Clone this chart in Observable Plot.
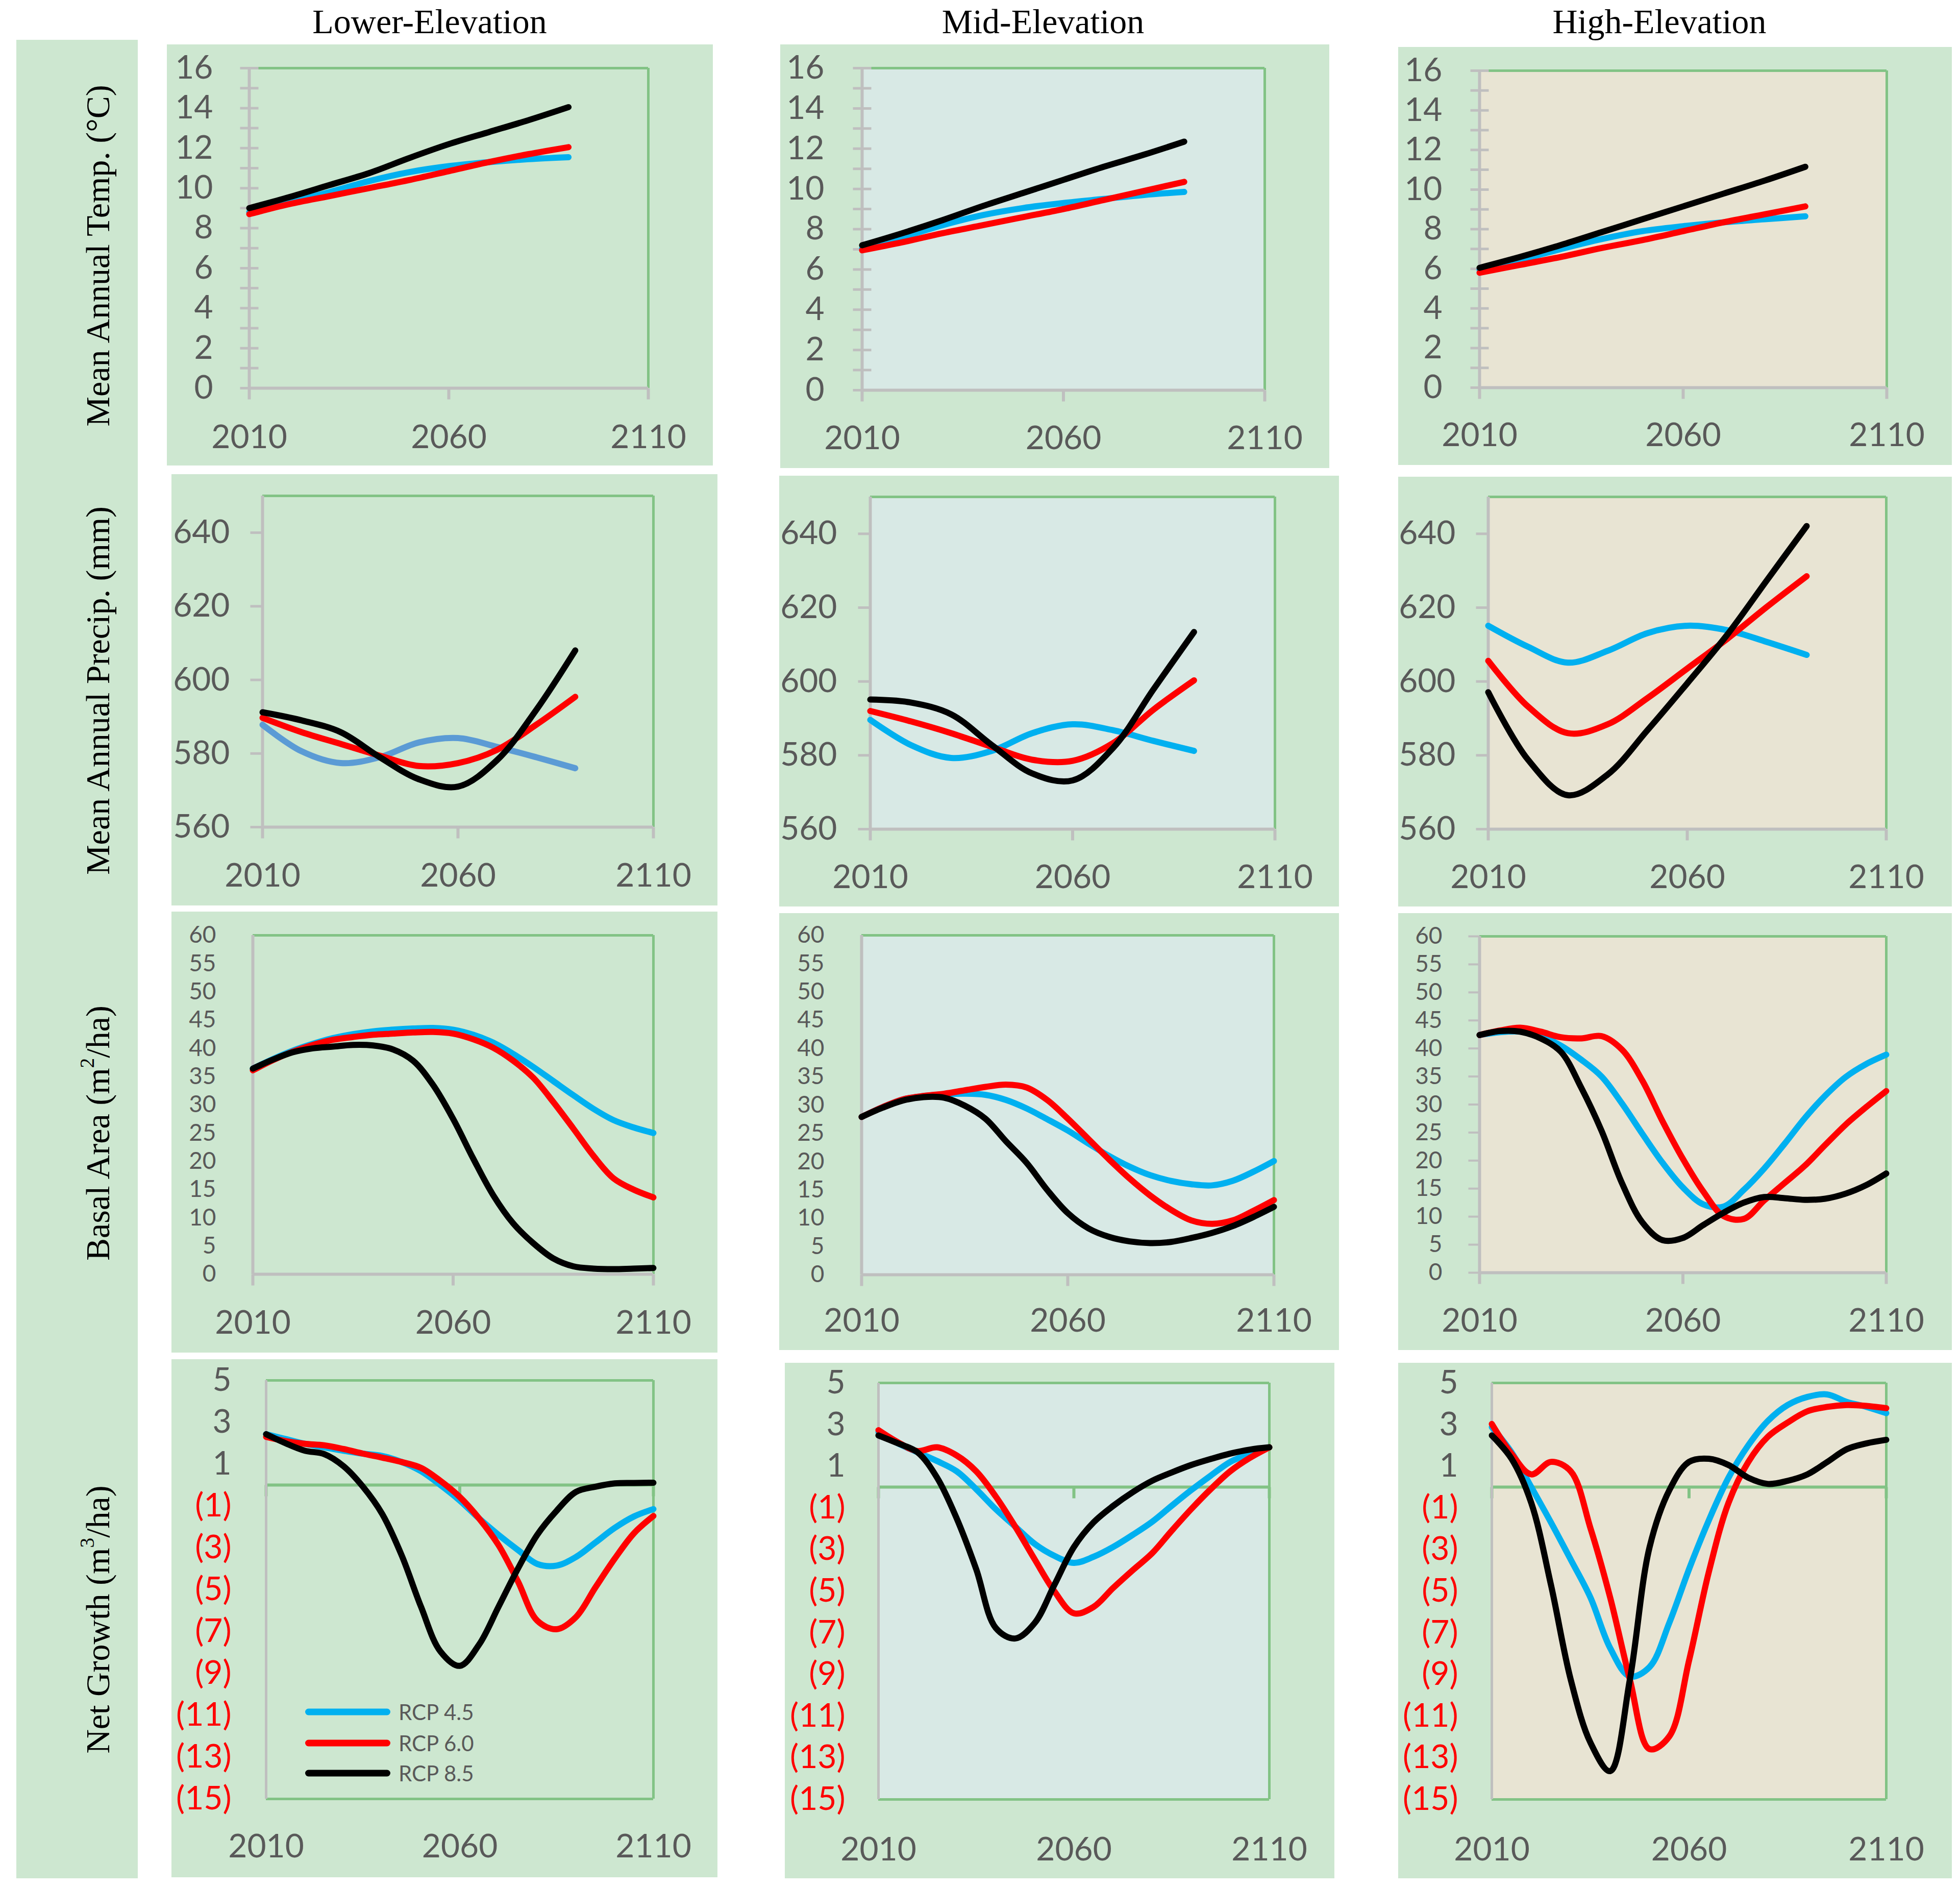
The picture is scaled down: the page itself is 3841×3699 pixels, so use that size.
<!DOCTYPE html>
<html><head><meta charset="utf-8">
<script src="https://cdn.jsdelivr.net/npm/d3@7"></script>
<script src="https://cdn.jsdelivr.net/npm/@observablehq/plot@0.6"></script>
<style>
body{margin:0;background:#fff;}
#root{position:relative;width:3841px;height:3699px;background:#fff;overflow:hidden;}
.abs{position:absolute;}
.title{position:absolute;font-family:"Liberation Serif","Times New Roman",serif;font-size:68px;color:#000;transform:translate(-50%,-50%);white-space:nowrap;}
.rowlab{position:absolute;font-family:"Liberation Serif","Times New Roman",serif;font-size:66px;color:#000;transform:translate(-50%,-50%) rotate(-90deg);white-space:nowrap;}
.rowlab sup{font-size:0.6em;line-height:0;vertical-align:0.75em;}
.leg{position:absolute;font-family:Lato,sans-serif;font-size:42px;color:#595959;white-space:nowrap;transform:translateY(-50%);}
.legline{position:absolute;height:13px;border-radius:7px;transform:translateY(-50%);}
</style></head>
<body><div id="root"></div>
<script>
// ---------- data ----------
const columns = ["Lower-Elevation", "Mid-Elevation", "High-Elevation"];
const seriesNames = ["RCP 4.5", "RCP 6.0", "RCP 8.5"];
const yearTicks = [2010, 2060, 2110];
const decadeYears = [2010, 2020, 2030, 2040, 2050, 2060, 2070, 2080, 2090];
const fiveYears = [2010, 2015, 2020, 2025, 2030, 2035, 2040, 2045, 2050, 2055, 2060, 2065, 2070, 2075, 2080, 2085, 2090, 2095, 2100, 2105, 2110];

// Mean annual temperature (°C)
const tempLow45 = [8.8, 9.3, 9.8, 10.35, 10.8, 11.1, 11.3, 11.45, 11.55];
const tempLow60 = [8.7, 9.2, 9.6, 10.0, 10.4, 10.85, 11.3, 11.7, 12.05];
const tempLow85 = [9.0, 9.55, 10.15, 10.75, 11.5, 12.2, 12.8, 13.4, 14.05];
const tempMid45 = [7.05, 7.6, 8.2, 8.7, 9.05, 9.3, 9.5, 9.7, 9.85];
const tempMid60 = [6.95, 7.35, 7.8, 8.2, 8.6, 9.0, 9.45, 9.9, 10.35];
const tempMid85 = [7.2, 7.8, 8.45, 9.15, 9.8, 10.45, 11.1, 11.7, 12.35];
const tempHigh45 = [5.95, 6.45, 7.0, 7.5, 7.9, 8.15, 8.35, 8.5, 8.65];
const tempHigh60 = [5.8, 6.2, 6.6, 7.05, 7.45, 7.9, 8.35, 8.75, 9.15];
const tempHigh85 = [6.05, 6.6, 7.2, 7.85, 8.5, 9.15, 9.8, 10.45, 11.15];

// Mean annual precipitation (mm)
const precLow45 = [587.8, 580.6, 577.4, 579.0, 583.0, 584.2, 581.8, 579.0, 576.0];
const precLow60 = [589.7, 585.8, 582.6, 579.4, 576.6, 577.4, 581.0, 587.8, 595.4];
const precLow85 = [591.2, 589.0, 585.8, 579.0, 573.0, 571.0, 578.2, 591.8, 608.0];
const precMid45 = [589.6, 582.8, 579.3, 581.2, 586.0, 588.4, 586.8, 583.9, 581.2];
const precMid60 = [592.0, 589.2, 586.0, 582.3, 578.8, 578.5, 583.3, 592.4, 600.3];
const precMid85 = [595.1, 594.3, 591.1, 582.8, 575.1, 573.2, 582.0, 597.9, 613.4];
const precHigh45 = [615.1, 609.4, 605.1, 608.3, 613.1, 615.1, 613.9, 610.7, 607.2];
const precHigh60 = [605.6, 593.2, 586.0, 588.4, 595.5, 603.5, 611.5, 620.2, 628.5];
const precHigh85 = [597.1, 578.8, 569.2, 574.8, 586.8, 599.5, 612.6, 627.4, 642.1];

// Basal area (m2/ha)
const basalLow45 = [36.4, 38.1, 39.6, 40.8, 41.8, 42.5, 43.0, 43.3, 43.5, 43.6, 43.3, 42.4, 41.0, 39.0, 36.7, 34.2, 31.7, 29.3, 27.3, 26.0, 25.0];
const basalLow60 = [36.1, 37.9, 39.4, 40.6, 41.5, 42.0, 42.4, 42.6, 42.8, 42.9, 42.6, 41.6, 40.1, 37.8, 34.8, 30.5, 25.8, 21.0, 17.0, 15.0, 13.6];
const basalLow85 = [36.4, 38.0, 39.3, 40.0, 40.3, 40.6, 40.5, 39.8, 37.8, 33.5, 27.5, 20.5, 14.0, 9.0, 5.5, 2.8, 1.4, 1.0, 0.9, 1.0, 1.1];
const basalMid45 = [27.9, 29.6, 31.0, 31.6, 31.9, 32.0, 31.8, 30.9, 29.4, 27.5, 25.5, 23.2, 21.0, 19.1, 17.6, 16.6, 16.0, 15.8, 16.6, 18.2, 20.1];
const basalMid60 = [27.9, 29.6, 31.0, 31.6, 32.0, 32.6, 33.2, 33.6, 33.1, 30.9, 27.6, 24.0, 20.4, 17.0, 14.0, 11.5, 9.6, 9.0, 9.6, 11.3, 13.2];
const basalMid85 = [27.9, 29.5, 30.8, 31.4, 31.3, 29.9, 27.6, 23.6, 19.8, 15.0, 10.9, 8.2, 6.7, 5.9, 5.6, 5.8, 6.5, 7.4, 8.6, 10.2, 12.0];
const basalHigh45 = [42.4, 42.9, 43.0, 42.2, 40.5, 38.0, 35.0, 30.2, 24.8, 19.6, 15.2, 12.2, 11.8, 14.8, 18.6, 23.0, 27.6, 31.6, 34.9, 37.2, 38.9];
const basalHigh60 = [42.4, 43.2, 43.7, 43.0, 42.0, 41.8, 42.2, 39.8, 34.3, 27.0, 20.3, 14.5, 10.1, 9.6, 12.9, 16.0, 19.1, 22.8, 26.4, 29.5, 32.4];
const basalHigh85 = [42.4, 43.1, 43.0, 41.8, 39.4, 33.0, 25.3, 16.0, 9.0, 5.8, 6.2, 8.5, 10.7, 12.5, 13.5, 13.3, 13.0, 13.2, 14.1, 15.6, 17.7];

// Net growth (m3/ha)
const netLow45 = [2.43, 2.2, 1.97, 1.8, 1.64, 1.5, 1.39, 1.1, 0.66, 0.0, -0.74, -1.6, -2.38, -3.1, -3.77, -3.85, -3.44, -2.75, -2.05, -1.5, -1.15];
const netLow60 = [2.3, 2.1, 1.97, 1.9, 1.72, 1.5, 1.31, 1.1, 0.82, 0.2, -0.57, -1.6, -2.87, -4.6, -6.48, -6.89, -6.31, -4.9, -3.52, -2.3, -1.48];
const netLow85 = [2.43, 2.0, 1.64, 1.48, 0.9, -0.08, -1.39, -3.36, -5.82, -7.95, -8.64, -7.62, -5.82, -4.0, -2.38, -1.23, -0.33, -0.08, 0.08, 0.1, 0.11];
const netMid45 = [2.64, 2.1, 1.67, 1.25, 0.76, -0.1, -1.06, -1.9, -2.73, -3.3, -3.64, -3.35, -2.88, -2.3, -1.67, -0.9, -0.15, 0.55, 1.21, 1.6, 1.91];
const netMid60 = [2.73, 2.15, 1.73, 1.91, 1.52, 0.76, -0.45, -1.9, -3.48, -5.0, -6.06, -5.76, -4.85, -4.0, -3.18, -2.1, -1.06, -0.1, 0.76, 1.4, 1.91];
const netMid85 = [2.48, 2.1, 1.67, 0.45, -1.5, -3.94, -6.76, -7.27, -6.52, -4.7, -2.88, -1.7, -0.91, -0.25, 0.3, 0.7, 1.06, 1.35, 1.61, 1.8, 1.91];
const netHigh45 = [2.88, 1.67, 0.0, -1.7, -3.48, -5.3, -7.73, -9.09, -8.64, -6.52, -3.94, -1.6, 0.45, 2.0, 3.18, 3.94, 4.33, 4.45, 4.09, 3.85, 3.55];
const netHigh60 = [3.03, 1.6, 0.61, 1.21, 0.76, -1.97, -5.3, -9.24, -12.58, -11.97, -8.33, -4.09, -0.76, 1.2, 2.42, 3.1, 3.64, 3.85, 3.94, 3.9, 3.79];
const netHigh85 = [2.48, 1.36, -0.76, -4.7, -9.24, -12.27, -13.64, -9.24, -2.88, -0.15, 1.21, 1.36, 1.06, 0.45, 0.15, 0.3, 0.61, 1.2, 1.82, 2.1, 2.27];

// tick labels
const tempTicks = [0, 2, 4, 6, 8, 10, 12, 14, 16];
const tempMinorTicks = [0, 1, 2, 3, 4, 5, 6, 7, 8, 9, 10, 11, 12, 13, 14, 15, 16];
const precTicks = [560, 580, 600, 620, 640];
const basalTicks = [0, 5, 10, 15, 20, 25, 30, 35, 40, 45, 50, 55, 60];
const netPosTicks = [5, 3, 1];
const netNegTicks = [-1, -3, -5, -7, -9, -11, -13, -15];

const rowLabels = [
  "Mean Annual Temp. (°C)",
  "Mean Annual Precip. (mm)",
  "Basal Area (m<sup>2</sup>/ha)",
  "Net Growth (m<sup>3</sup>/ha)"
];

// ---------- styles ----------
const OUTER_BG = "#cde7d0";
const INNER_BG = ["#cde7d0", "#d8e9e5", "#e8e4d3"];
const FRAME_GREEN = "#82c385";
const AXIS_GRAY = "#bfbfbf";
const LABEL_GRAY = "#595959";
const RED_LABEL = "#ff0000";
const BLUE = "#00b0f0", STEEL = "#5b9bd5", RED = "#ff0000", BLACK = "#000000";
const FONT = "Lato, 'Open Sans', sans-serif";

const rows = [
  {kind: "temp", domain: [0, 16], years: decadeYears, fontSize: 64,
   series: [[tempLow45, tempLow60, tempLow85], [tempMid45, tempMid60, tempMid85], [tempHigh45, tempHigh60, tempHigh85]]},
  {kind: "prec", domain: [560, 650], years: decadeYears, fontSize: 64,
   series: [[precLow45, precLow60, precLow85], [precMid45, precMid60, precMid85], [precHigh45, precHigh60, precHigh85]]},
  {kind: "basal", domain: [0, 60], years: fiveYears, fontSize: 46,
   series: [[basalLow45, basalLow60, basalLow85], [basalMid45, basalMid60, basalMid85], [basalHigh45, basalHigh60, basalHigh85]]},
  {kind: "net", domain: [-15, 5], years: fiveYears, fontSize: 64,
   series: [[netLow45, netLow60, netLow85], [netMid45, netMid60, netMid85], [netHigh45, netHigh60, netHigh85]]}
];

// layout boxes (pixels)
const boxes = [
  [{outer:[327,87,1397,912], fx:[488,1270], fy:[133,760], lab:857, pad:71},
   {outer:[1529,87,2605,917], fx:[1689,2478], fy:[133,764], lab:859, pad:74},
   {outer:[2740,92,3825,911], fx:[2899,3697], fy:[138,759], lab:853, pad:73}],
  [{outer:[336,929,1406,1774], fx:[514,1280], fy:[971,1620], lab:1716, pad:64},
   {outer:[1527,932,2624,1776], fx:[1705,2498], fy:[973,1624], lab:1719, pad:65},
   {outer:[2740,934,3825,1776], fx:[2916,3696], fy:[973,1624], lab:1719, pad:64}],
  [{outer:[336,1786,1406,2650], fx:[495,1280], fy:[1832,2496], lab:2592, pad:72},
   {outer:[1527,1789,2624,2645], fx:[1688,2496], fy:[1832,2497], lab:2588, pad:73},
   {outer:[2740,1789,3825,2645], fx:[2899,3696], fy:[1834,2493], lab:2588, pad:73}],
  [{outer:[336,2663,1406,3678], fx:[521,1280], fy:[2704,3524], lab:3618, pad:68},
   {outer:[1538,2670,2615,3680], fx:[1721,2487], fy:[2709,3525], lab:3624, pad:65},
   {outer:[2740,2670,3825,3680], fx:[2923,3696], fy:[2709,3525], lab:3624, pad:66}]
];

// custom tick symbols
const symCross = {draw(ctx, size) { const r = Math.sqrt(size / Math.PI); ctx.moveTo(-r, 0); ctx.lineTo(r, 0); }};
const symLeft = {draw(ctx, size) { const r = Math.sqrt(size / Math.PI); ctx.moveTo(-r, 0); ctx.lineTo(0, 0); }};
const symDown = {draw(ctx, size) { const r = Math.sqrt(size / Math.PI); ctx.moveTo(0, 0); ctx.lineTo(0, r); }};

const root = document.getElementById("root");

function panel(row, col) {
  const R = rows[row], B = boxes[row][col];
  const [ox0, oy0, ox1, oy1] = B.outer;
  const [yMin, yMax] = R.domain;
  const xMin = yearTicks[0], xMax = yearTicks[yearTicks.length - 1];
  const marks = [Plot.frame({fill: INNER_BG[col], stroke: "none"})];
  const txt = {fontSize: 64, fontFamily: FONT};
  const ytxt = {fontSize: R.fontSize, fontFamily: FONT};

  if (R.kind !== "net") {
    marks.push(Plot.ruleY([yMax], {stroke: FRAME_GREEN, strokeWidth: 5}));
    marks.push(Plot.ruleX([xMax], {stroke: FRAME_GREEN, strokeWidth: 5}));
    marks.push(Plot.ruleX([xMin], {stroke: AXIS_GRAY, strokeWidth: 6}));
    marks.push(Plot.ruleY([yMin], {stroke: AXIS_GRAY, strokeWidth: 6}));
    marks.push(Plot.dot(yearTicks, {x: d => d, y: () => yMin, symbol: symDown, r: 22, stroke: AXIS_GRAY, strokeWidth: 6, fill: "none"}));
  } else {
    marks.push(Plot.ruleY([yMax], {stroke: FRAME_GREEN, strokeWidth: 5}));
    marks.push(Plot.ruleY([yMin], {stroke: FRAME_GREEN, strokeWidth: 5}));
    marks.push(Plot.ruleX([xMax], {stroke: FRAME_GREEN, strokeWidth: 5}));
    marks.push(Plot.ruleY([0], {stroke: FRAME_GREEN, strokeWidth: 6}));
    marks.push(Plot.dot(yearTicks, {x: d => d, y: () => 0, symbol: symDown, r: 22, stroke: FRAME_GREEN, strokeWidth: 6, fill: "none"}));
    marks.push(Plot.ruleX([xMin], {stroke: AXIS_GRAY, strokeWidth: 5}));
  }

  // y ticks & labels
  if (R.kind === "temp") {
    marks.push(Plot.dot(tempMinorTicks, {x: () => xMin, y: d => d, symbol: symCross, r: 18, stroke: AXIS_GRAY, strokeWidth: 5, fill: "none"}));
    marks.push(Plot.text(tempTicks, {x: () => xMin, y: d => d, text: d => String(d), textAnchor: "end", lineAnchor: "middle", dx: -B.pad, fill: LABEL_GRAY, ...ytxt}));
  } else if (R.kind === "prec") {
    marks.push(Plot.dot(precTicks, {x: () => xMin, y: d => d, symbol: symLeft, r: 24, stroke: AXIS_GRAY, strokeWidth: 5, fill: "none"}));
    marks.push(Plot.text(precTicks, {x: () => xMin, y: d => d, text: d => String(d), textAnchor: "end", lineAnchor: "middle", dx: -B.pad, fill: LABEL_GRAY, ...ytxt}));
  } else if (R.kind === "basal") {
    if (col === 2) marks.push(Plot.dot(basalTicks, {x: () => xMin, y: d => d, symbol: symLeft, r: 22, stroke: AXIS_GRAY, strokeWidth: 4, fill: "none"}));
    marks.push(Plot.text(basalTicks, {x: () => xMin, y: d => d, text: d => String(d), textAnchor: "end", lineAnchor: "middle", dx: -B.pad, fill: LABEL_GRAY, ...ytxt}));
  } else {
    marks.push(Plot.text(netPosTicks, {x: () => xMin, y: d => d, text: d => String(d), textAnchor: "end", lineAnchor: "middle", dx: -B.pad, fill: LABEL_GRAY, ...ytxt}));
    marks.push(Plot.text(netNegTicks, {x: () => xMin, y: d => d, text: d => `(${-d})`, textAnchor: "end", lineAnchor: "middle", dx: -B.pad, fill: RED_LABEL, ...ytxt}));
  }

  // x labels
  marks.push(Plot.text(yearTicks, {x: d => d, frameAnchor: "bottom", dy: B.lab - B.fy[1], text: d => String(d), lineAnchor: "middle", fill: LABEL_GRAY, ...txt}));

  // series
  const colors = [row === 1 && col === 0 ? STEEL : BLUE, RED, BLACK];
  R.series[col].forEach((vals, i) => {
    const table = R.years.map((yr, j) => ({year: yr, value: vals[j], series: seriesNames[i]}));
    marks.push(Plot.line(table, {x: "year", y: "value", stroke: colors[i], strokeWidth: 12, curve: "catmull-rom", strokeLinecap: "round", strokeLinejoin: "round"}));
  });

  const svg = Plot.plot({
    width: ox1 - ox0, height: oy1 - oy0,
    marginLeft: B.fx[0] - ox0, marginRight: ox1 - B.fx[1],
    marginTop: B.fy[0] - oy0, marginBottom: oy1 - B.fy[1],
    x: {domain: [xMin, xMax], axis: null},
    y: {domain: R.domain, axis: null},
    style: {background: OUTER_BG, fontFamily: FONT, fontSize: "64px", color: LABEL_GRAY, overflow: "visible"},
    marks
  });
  svg.style.position = "absolute";
  svg.style.left = ox0 + "px";
  svg.style.top = oy0 + "px";
  svg.style.maxWidth = "none";
  root.appendChild(svg);
}

// left strip
const strip = document.createElement("div");
strip.className = "abs";
Object.assign(strip.style, {left: "32px", top: "78px", width: "238px", height: "3602px", background: OUTER_BG});
root.appendChild(strip);

// column titles
const titleX = [842, 2044, 3252];
columns.forEach((c, i) => {
  const d = document.createElement("div");
  d.className = "title";
  d.style.left = titleX[i] + "px";
  d.style.top = "42px";
  d.textContent = c;
  root.appendChild(d);
});

// row labels
const rowLabelY = [501, 1353, 2220, 3173];
rowLabels.forEach((t, i) => {
  const d = document.createElement("div");
  d.className = "rowlab";
  d.style.left = "192px";
  d.style.top = rowLabelY[i] + "px";
  d.innerHTML = t;
  root.appendChild(d);
});

for (let r = 0; r < 4; r++) for (let c = 0; c < 3; c++) panel(r, c);

// legend (inside lower-left panel)
const legColors = [BLUE, RED, BLACK];
const legY = [3354, 3415, 3474];
seriesNames.forEach((s, i) => {
  const l = document.createElement("div");
  l.className = "legline";
  Object.assign(l.style, {left: "598px", top: legY[i] + "px", width: "167px", background: legColors[i]});
  root.appendChild(l);
  const t = document.createElement("div");
  t.className = "leg";
  Object.assign(t.style, {left: "781px", top: legY[i] + "px"});
  t.textContent = s;
  root.appendChild(t);
});
</script>
</body></html>
